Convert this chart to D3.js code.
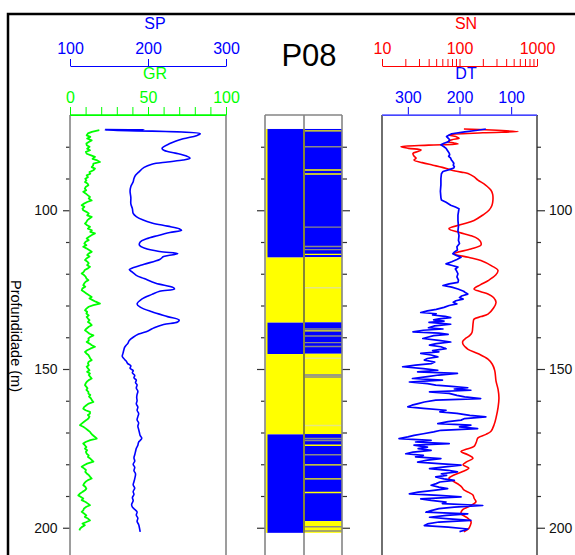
<!doctype html>
<html>
<head>
<meta charset="utf-8">
<title>P08</title>
<script src="https://d3js.org/d3.v7.min.js"></script>
<style>
  body { margin: 0; background: #fff; }
  svg text { font-family: "Liberation Sans", Arial, sans-serif; }
</style>
</head>
<body>
<svg width="575" height="555"></svg>
<script>
// depth (m), value
var spData = [[74.6,145],[74.65,195],[74.75,145],[75.9,267],[76.5,262],[77.5,245],[79,228],[80.5,218],[81.2,221],[82,235],[83,250],[83.6,254],[84.2,245],[84.8,225],[85.5,205],[86.5,195],[88,188],[89,184],[90,182],[91,181],[92.5,178],[94,177],[96,178],[98,178],[99.5,180],[101,181],[102,185],[103,193],[104,205],[105,225],[105.8,240],[106.3,243],[107,228],[108,212],[109,198],[110,190],[111,189],[112,196],[113,215],[113.6,238],[114,232],[114.6,220],[115.5,215],[117,195],[118.2,180],[118.7,176],[119.5,180],[120.5,185],[121.5,195],[123,210],[124.3,232],[124.8,234],[125.5,215],[126.5,205],[128,192],[129.5,186],[130.5,190],[132,205],[133.5,225],[134.6,240],[135.2,238],[136,220],[137,208],[138,200],[139,188],[140,181],[141,176],[142,174],[142.5,172],[143.2,170],[144,169],[145,168],[146,167],[147,170],[147.5,172],[148.3,174],[149,178],[149.8,177],[150.5,181],[151.2,180],[152,183],[152.8,182],[153.5,185],[154.3,184],[155,186],[156,185],[157,187],[158,186],[159,185.5],[160,186],[161,185],[162,187],[163,186],[164,188],[165,187],[166,186],[167,188],[168,187],[169,188],[170,189],[171,190],[171.8,192],[172.5,190],[173,188],[174,187],[175,185],[176,184],[177,183],[178,182],[179,183],[180,181],[181,183],[182,182],[183,184],[184.5,183],[185.5,182],[186.5,181],[187.5,183],[188.6,181],[189.5,182],[190.5,180],[191.5,181],[192.7,179],[193.5,180],[194,182],[195,186],[196,185],[197,187],[198,186],[199,188],[200,189],[201.3,190]];

var grData = [[74.8,18.8],[75.3,14],[75.8,11.5],[76.4,10.7],[76.9,13],[77.4,11],[78.0,13.9],[78.5,12],[79.0,10.5],[79.5,10.7],[80.0,12.5],[80.6,11],[81.1,12.8],[81.6,10.2],[82.2,10.7],[82.7,13.5],[83.2,16],[83.8,14.5],[84.3,17.5],[84.8,19.2],[85.3,15],[85.9,14.8],[86.4,13.9],[86.9,16],[87.4,15],[88.0,12.5],[88.5,13],[89.0,10.7],[89.6,11.5],[90.1,9.8],[90.6,10.5],[91.1,9.6],[91.6,11.2],[92.1,11.8],[92.7,10],[93.2,9.5],[93.7,10.4],[94.2,8.5],[94.7,10],[95.3,11.5],[95.8,12.8],[96.3,12],[96.9,13.9],[97.4,11],[97.9,9],[98.4,7.5],[98.9,9.2],[99.5,8],[100.0,8.5],[100.5,10.5],[101.0,12],[101.6,11],[102.1,13.9],[102.6,12.5],[103.1,11.2],[103.7,10.5],[104.2,9.6],[104.7,11],[105.2,12.8],[105.8,11.5],[106.3,14],[106.8,13],[107.3,16],[107.8,14],[108.4,12],[108.9,10.7],[109.4,12],[109.9,10],[110.5,9.2],[111.0,10.5],[111.5,8.5],[112.0,10.5],[112.6,12.5],[113.1,13.9],[113.6,12],[114.1,11],[114.6,12.5],[115.2,10.5],[115.7,9.6],[116.2,11.2],[116.7,12],[117.3,11],[117.8,12.8],[118.3,11.5],[118.8,9.5],[119.4,8.8],[119.9,7.5],[120.4,9],[120.9,10],[121.5,10.5],[122.0,11.8],[122.5,10],[123.0,9.2],[123.6,8.5],[124.1,9.8],[124.6,8],[125.2,7.5],[125.7,9],[126.2,10.5],[126.7,12],[127.3,13.9],[127.8,12.5],[128.3,14.5],[128.8,16.5],[129.4,19.2],[129.9,15],[130.4,12],[131.0,10.5],[131.5,9.6],[132.0,11],[132.5,10.5],[133.1,12],[133.6,10.7],[134.1,11.5],[134.6,12.5],[135.2,11.5],[135.7,13],[136.2,13.9],[136.7,12],[137.3,10.5],[137.8,9.6],[138.3,11],[138.9,12.5],[139.4,15],[139.9,13],[140.4,11.8],[141.0,12],[141.5,10.7],[142.0,12.5],[142.5,14],[143.0,16],[143.6,13],[144.1,11],[144.6,9.6],[145.1,10.5],[145.6,11.8],[146.2,12.5],[146.7,13],[147.2,13.9],[147.7,12],[148.2,11.5],[148.8,12],[149.3,10.7],[149.8,11.5],[150.4,12.5],[150.9,11],[151.4,12.8],[151.9,12],[152.5,13],[153.0,13.9],[153.5,12],[154.0,10.8],[154.6,10],[155.1,9.6],[155.6,10.5],[156.1,11.2],[156.6,10.5],[157.2,11.8],[157.7,11.8],[158.2,13],[158.7,12.2],[159.3,13.5],[159.8,14],[160.4,15],[160.9,12],[161.4,10.5],[162.0,9],[162.5,8.5],[163.0,10],[163.5,12.8],[164.0,12.8],[164.5,11.5],[165.0,12.5],[165.6,11.8],[166.1,10.5],[166.6,9],[167.2,7.5],[167.7,6.4],[168.2,8.5],[168.7,10],[169.3,11.5],[169.8,12.8],[170.3,13.5],[170.8,14.5],[171.4,16],[171.9,17.1],[172.4,13],[173.0,10],[173.5,8.5],[174.0,9.5],[174.6,10.5],[175.1,9.6],[175.6,11],[176.1,10.2],[176.7,10.7],[177.2,12],[177.7,11.5],[178.2,13],[178.7,14],[179.2,15],[179.8,11],[180.3,9],[180.8,7.5],[181.3,9],[181.8,10.2],[182.4,9.8],[182.9,10.7],[183.4,12],[183.9,12.8],[184.5,13.9],[185.0,11.5],[185.5,10],[186.1,9],[186.6,8.5],[187.1,9.8],[187.7,10.5],[188.2,9.6],[188.7,8],[189.2,6.5],[189.8,5.3],[190.3,7],[190.8,8.5],[191.3,7.5],[191.9,10],[192.4,11.5],[192.9,12.8],[193.4,10.5],[193.9,9],[194.5,8.5],[195.0,7.5],[195.5,9],[196.1,10.5],[196.6,9.5],[197.1,11.5],[197.7,12.8],[198.2,10.5],[198.7,8],[199.2,9.5],[199.8,7.5],[200.3,6.5],[200.8,6]];

var snData = [[74.4,114],[75.2,569],[75.6,200],[76.3,73],[76.8,90],[77.3,99],[77.8,80],[78.4,71],[78.8,85],[79.1,96],[79.5,40],[80,17.6],[80.5,22],[81,31.9],[81.5,29],[82.1,25.1],[83,26],[83.6,27.5],[84.2,25.9],[85,33],[85.8,45.5],[86.5,60],[87.3,77.7],[88,105],[88.4,128.7],[89.5,155],[90.5,173],[92,215],[93.7,255],[95,268],[96.8,270],[98.5,262],[100,240],[101.5,200],[103.2,154],[104.5,105],[105.8,73],[107,100],[108,140],[109,173],[110,188],[111,189],[112.2,140],[113.7,85],[114.8,130],[115.8,189],[117.5,260],[119,314],[120.5,290],[122.2,233],[123.5,185],[124.8,154],[125.6,185],[126.4,233],[127.5,275],[129,296],[130.8,275],[132.7,233],[133.5,190],[134.3,154],[135.5,150],[137,148],[138.5,145],[139.5,135],[140.5,118],[141.3,110],[142.2,111],[143,118],[143.8,129],[145.2,175],[146.9,233],[148.5,265],[150.5,285],[153.8,296],[156.5,315],[159.1,323],[162,315],[165.4,296],[167.5,280],[169.6,255],[170.6,220],[171.7,173],[173,165],[174.4,154],[175.2,125],[176,104.5],[177,128],[178.1,149],[179.2,125],[180.2,111],[181.2,132],[182.3,110],[183.4,85],[184.4,73],[185.5,85],[186.5,99],[187.3,108],[188.1,114],[189,135],[189.7,149],[190.8,155],[191.8,163],[193,140],[194.3,110],[195.5,104.5],[196.8,125],[198.1,141],[199.2,138],[200.2,132],[201.3,114]];

var dtData = [[74.4,149],[74.8,165],[75.3,190],[75.9,215],[76.3,220],[76.8,225],[77.3,222],[77.8,219],[78.4,221],[78.9,230],[79.4,236],[80.0,230],[80.5,226],[81.0,224],[81.5,222],[82.0,220],[82.5,219],[83.0,221],[83.6,217],[84.1,216],[84.5,214],[85.2,211],[85.8,212],[86.3,210],[86.7,211],[87.2,220],[87.8,232],[88.5,235],[90,236],[92,236],[94,237],[96,236],[96.8,235],[97.5,226],[98.4,217],[99.0,208],[99.5,201],[100.5,202],[101.5,203],[103.2,203],[105,202],[106.5,203],[108,201],[109.5,202],[110.5,200],[111.5,205],[112.5,204],[113.2,210],[113.7,213],[114.3,205],[114.8,197],[115.5,205],[116.2,215],[116.9,226],[117.4,214],[117.9,203],[118.5,208],[119,206],[120,203],[121,205],[122,202],[122.7,203],[123.2,220],[123.7,232],[124.2,215],[124.8,203],[125.5,192],[126.0,188],[126.4,184],[127.0,196],[127.5,200],[128.0,193],[128.5,207],[129.0,212],[129.5,205],[130.0,220],[130.6,230],[131.2,245],[131.7,262],[132.2,275],[132.6,245],[133.0,252],[133.4,228],[133.8,217],[134.2,240],[134.5,250],[134.9,230],[135.3,259],[135.6,235],[135.9,217],[136.4,248],[137.0,260],[137.4,232],[137.8,270],[138.3,290],[138.7,240],[139.1,222],[139.5,250],[140.0,262],[140.4,271],[141.0,240],[141.5,217],[142.0,245],[142.5,258],[143.0,236],[143.6,226],[144.2,252],[144.6,240],[145.1,275],[145.6,255],[146.2,242],[146.7,262],[147.2,268],[147.8,248],[148.3,255],[148.8,285],[149.3,310],[149.9,270],[150.4,242],[150.9,281],[151.4,204],[151.9,240],[152.4,262],[153.0,291],[153.5,233],[154.1,297],[154.6,262],[155.1,246],[155.5,215],[155.9,184],[156.3,210],[156.7,178],[157.2,258],[157.7,220],[158.3,205],[158.8,190],[159.3,159],[159.8,246],[160.4,268],[160.9,280],[161.4,292],[161.9,300],[162.4,270],[163.0,226],[163.5,238],[164.0,205],[164.6,180],[165.1,149],[165.6,190],[166.1,197],[166.6,222],[167.2,242],[167.7,178],[168.2,200],[168.8,165],[169.3,236],[169.8,250],[170.4,270],[170.9,288],[171.4,300],[171.9,317],[172.5,255],[173.0,285],[173.5,220],[174.0,288],[174.6,262],[175.1,280],[175.6,255],[176.2,290],[176.7,304],[177.2,270],[177.7,285],[178.2,236],[178.7,262],[179.3,281],[179.8,240],[180.3,197],[180.8,228],[181.4,258],[181.9,222],[182.4,204],[183.0,235],[183.5,225],[184.0,246],[184.6,230],[185.1,210],[185.6,238],[186.1,245],[186.6,255],[187.2,240],[187.7,223],[188.2,250],[188.8,280],[189.3,297],[189.8,240],[190.3,197],[190.9,275],[191.4,255],[191.9,226],[192.4,233],[193.0,155],[193.5,210],[194.0,240],[194.6,255],[195.1,265],[195.6,184],[196.1,225],[196.7,258],[197.2,220],[197.7,178],[198.2,240],[198.8,262],[199.3,268],[199.8,222],[200.4,184],[200.8,190],[201.2,200]];

// lithology: top, base, type
var lithoLeft = [[74.4,114.9,"A"],[114.9,135.4,"B"],[135.4,145.3,"A"],[145.3,170.6,"B"],[170.6,201.6,"A"]];
var lithoRight = [[74.4,114.8,"A"],[114.8,135.3,"B"],[135.3,145.2,"A"],[145.2,170.5,"B"],[170.5,197.9,"A"],[197.9,201.6,"B"]];
// thin layers in the right column: depth, kind
var lithoLines = [[75.0,"y"],[80.0,"g"],[87.3,"y"],[88.6,"y"],[105.3,"g"],[111.4,"g"],[112.4,"g"],[113.9,"y"],[124.4,"f"],[137.4,"g"],[138.0,"y"],[139.6,"g"],[141.7,"g"],[142.9,"g"],[146.6,"f"],[151.9,"b"],[152.5,"g"],[167.8,"f"],[171.9,"g"],[172.5,"g"],[174.0,"y"],[177.0,"g"],[180.2,"y"],[184.6,"y"],[188.9,"y"],[199.7,"g"],[201.0,"g"]];

var depthTicks = [80,90,100,110,120,130,140,150,160,170,180,190,200];
var spTicks = [100,200,300];
var grTicks = [0,10,20,30,40,50,60,70,80,90,100];
var snTicks = [10,20,30,40,50,60,70,80,90,100,200,300,400,500,600,700,800,900,1000];
var dtTicks = [300,200,100];

var BLUE = "#0000ff", GREEN = "#00ff00", RED = "#ff0000", YELLOW = "#ffff00";
var lithoColor = {A: BLUE, B: YELLOW};
var lineColor = {y: YELLOW, g: "#8a8a8a", f: "#e6e680", b: "#7a7ab0"};

var svg = d3.select("svg");
var y = d3.scaleLinear().domain([70, 210]).range([115, 559.5]);

var xSP = d3.scaleLinear().domain([100, 300]).range([70, 226]);
var xGR = d3.scaleLinear().domain([0, 100]).range([70, 226]);
var xSN = d3.scaleLog().domain([10, 1000]).range([382, 537]);
var xDT = d3.scaleLinear().domain([350, 50]).range([382, 537]);

function styleAxis(g, color, size) {
  g.attr("font-family", null).attr("font-size", size);
  g.selectAll("path, line").attr("stroke", color);
  g.selectAll("text").attr("fill", color);
}

// top scales
var gSP = svg.append("g").attr("transform", "translate(0,66)")
  .call(d3.axisTop(xSP).tickValues(spTicks).tickSize(7).tickSizeOuter(0).tickPadding(5));
styleAxis(gSP, BLUE, 16);

var gGR = svg.append("g").attr("transform", "translate(0,115)")
  .call(d3.axisTop(xGR).tickValues(grTicks).tickSize(8).tickSizeOuter(0).tickPadding(4)
    .tickFormat(function(d) { return d % 50 === 0 ? d : ""; }));
styleAxis(gGR, GREEN, 16);

var gSN = svg.append("g").attr("transform", "translate(0,66)")
  .call(d3.axisTop(xSN).tickValues(snTicks).tickSize(7).tickSizeOuter(0).tickPadding(5)
    .tickFormat(function(d) { return [10, 100, 1000].indexOf(d) >= 0 ? d : ""; }));
styleAxis(gSN, RED, 16);

var gDT = svg.append("g").attr("transform", "translate(0,115)")
  .call(d3.axisTop(xDT).tickValues(dtTicks).tickSize(8).tickSizeOuter(0).tickPadding(4));
styleAxis(gDT, BLUE, 16);

var titles = [["SP", 155, 29, BLUE], ["GR", 155, 79, GREEN], ["SN", 466, 29, RED], ["DT", 466, 79, BLUE]];
svg.selectAll(".ttl").data(titles).enter().append("text")
  .attr("x", function(d) { return d[1]; })
  .attr("y", function(d) { return d[2]; })
  .attr("text-anchor", "middle")
  .attr("font-size", 16)
  .attr("fill", function(d) { return d[3]; })
  .text(function(d) { return d[0]; });

svg.append("text").attr("x", 309).attr("y", 65.5).attr("text-anchor", "middle")
  .attr("font-size", 31).attr("fill", "#000").text("P08");

svg.append("text").attr("transform", "translate(10.5,336) rotate(90)")
  .attr("text-anchor", "middle").attr("font-size", 14.5).attr("fill", "#000")
  .text("Profundidade (m)");

// depth ticks
function depthAxis(axis, x, major, minor, pad, labels) {
  var g = svg.append("g").attr("transform", "translate(" + x + ",0)")
    .call(axis(y).tickValues(depthTicks).tickSize(major).tickPadding(pad)
      .tickFormat(function(d) { return labels && d % 50 === 0 ? d : ""; }));
  g.attr("font-family", null).attr("font-size", 14);
  g.select(".domain").remove();
  g.selectAll(".tick line").attr("stroke", "#333").attr("stroke-width", 1.2);
  var sign = axis === d3.axisLeft ? -1 : 1;
  g.selectAll(".tick").filter(function(d) { return d % 50 !== 0; })
    .select("line").attr("x2", sign * minor);
  g.selectAll("text").attr("fill", "#111");
}
depthAxis(d3.axisLeft, 70, 7, 4, 5.5, true);
depthAxis(d3.axisLeft, 265, 8, 4, 3, false);
depthAxis(d3.axisRight, 342, 8, 5, 3, false);
depthAxis(d3.axisRight, 537, 8, 4, 4, true);

// lithology columns
svg.selectAll(".litL").data(lithoLeft).enter().append("rect")
  .attr("x", 267).attr("width", 37)
  .attr("y", function(d) { return y(d[0]); })
  .attr("height", function(d) { return y(d[1]) - y(d[0]); })
  .attr("fill", function(d) { return lithoColor[d[2]]; });

svg.selectAll(".litR").data(lithoRight).enter().append("rect")
  .attr("x", 304).attr("width", 38)
  .attr("y", function(d) { return y(d[0]); })
  .attr("height", function(d) { return y(d[1]) - y(d[0]); })
  .attr("fill", function(d) { return lithoColor[d[2]]; });

svg.selectAll(".litLine").data(lithoLines).enter().append("line")
  .attr("x1", 305).attr("x2", 341.5)
  .attr("y1", function(d) { return y(d[0]); })
  .attr("y2", function(d) { return y(d[0]); })
  .attr("stroke", function(d) { return lineColor[d[1]]; })
  .attr("stroke-width", 1.4);

svg.append("rect").attr("x", 265.5).attr("width", 2)
  .attr("y", y(lithoLeft[0][0])).attr("height", y(201.6) - y(lithoLeft[0][0]))
  .attr("fill", YELLOW);

// track borders
var gray = "#858585";
[70, 226].forEach(function(x) {
  svg.append("line").attr("x1", x).attr("x2", x).attr("y1", 115).attr("y2", 555)
    .attr("stroke", gray).attr("stroke-width", 1.6);
});
[265, 304, 342].forEach(function(x) {
  svg.append("line").attr("x1", x).attr("x2", x).attr("y1", 115).attr("y2", 555)
    .attr("stroke", gray).attr("stroke-width", 1.6);
});
svg.append("line").attr("x1", 304).attr("x2", 304).attr("y1", y(74.4)).attr("y2", y(201.6))
  .attr("stroke", "#85853a").attr("stroke-width", 2);
svg.append("line").attr("x1", 265).attr("x2", 342).attr("y1", 115).attr("y2", 115)
  .attr("stroke", gray).attr("stroke-width", 1.6);
[382, 537].forEach(function(x) {
  svg.append("line").attr("x1", x).attr("x2", x).attr("y1", 115).attr("y2", 555)
    .attr("stroke", "#222").attr("stroke-width", 1.3);
});
svg.append("line").attr("x1", 382).attr("x2", 537).attr("y1", 115).attr("y2", 115)
  .attr("stroke", "#5c5cff").attr("stroke-width", 1.3);
svg.append("line").attr("x1", 70).attr("x2", 226).attr("y1", 115).attr("y2", 115)
  .attr("stroke", GREEN).attr("stroke-width", 1.6);

// curves
function curve(data, xs, color, width, c) {
  var line = d3.line()
    .x(function(d) { return xs(d[1]); })
    .y(function(d) { return y(d[0]); })
    .curve(c || d3.curveLinear);
  svg.append("path").datum(data).attr("d", line)
    .attr("fill", "none").attr("stroke", color)
    .attr("stroke-width", width).attr("stroke-linejoin", "round");
}
curve(grData, xGR, GREEN, 1.8);
curve(spData, xSP, BLUE, 1.6, d3.curveCatmullRom.alpha(0.5));
curve(snData, xSN, RED, 1.6, d3.curveCatmullRom.alpha(0.5));
curve(dtData, xDT, BLUE, 1.7);

// frame
svg.append("path").attr("d", "M8,555V14H575")
  .attr("fill", "none").attr("stroke", "#000").attr("stroke-width", 2.5);
</script>
</body>
</html>
